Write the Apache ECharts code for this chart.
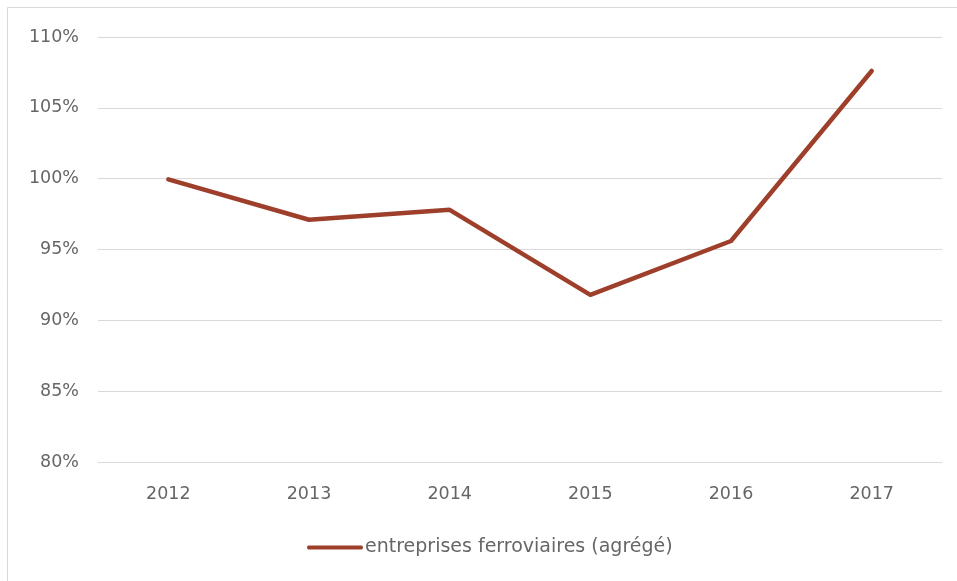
<!DOCTYPE html>
<html>
<head>
<meta charset="utf-8">
<script src="https://cdn.jsdelivr.net/npm/echarts@6/dist/echarts.min.js"></script>
<style>html,body{margin:0;padding:0;background:#fff}#c{width:957px;height:581px}</style>
</head>
<body>
<div id="c"></div>
<script>
const years = ['2012', '2013', '2014', '2015', '2016', '2017'];
const seriesName = 'entreprises ferroviaires (agrégé)';
const values = [99.95, 97.1, 97.8, 91.8, 95.6, 107.6];
const yTicks = [80, 85, 90, 95, 100, 105, 110];

const chart = echarts.init(document.getElementById('c'), null, {renderer: 'canvas'});
const font = '"DejaVu Sans", sans-serif';
chart.setOption({
  animation: false,
  backgroundColor: '#fff',
  graphic: [{
    type: 'rect', z: -1, silent: true,
    shape: {x: 7.5, y: 7.5, width: 1200, height: 1200},
    style: {fill: 'none', stroke: '#d9d9d9', lineWidth: 1}
  }],
  grid: {left: 98, right: 15, top: 37, bottom: 119},
  legend: {
    left: 302, top: 533,
    itemWidth: 56, itemHeight: 14, itemGap: 2,
    data: [{name: seriesName, icon: 'path://M2,5 L54,5 Q56,7 54,9 L2,9 Q0,7 2,5 Z'}],
    textStyle: {color: '#666666', fontSize: 19, fontFamily: font, padding: [0, 0, 0, -3]}
  },
  xAxis: {
    type: 'category', data: years, boundaryGap: true,
    axisLine: {show: false}, axisTick: {show: false},
    axisLabel: {color: '#666666', fontSize: 17.5, fontFamily: font, margin: 23}
  },
  yAxis: {
    type: 'value', min: 80, max: 110, interval: 5,
    axisLine: {show: false}, axisTick: {show: false},
    splitLine: {lineStyle: {color: '#d9d9d9', width: 1}},
    axisLabel: {color: '#666666', fontSize: 17.5, fontFamily: font, margin: 19,
      formatter: v => yTicks.includes(v) ? v + '%' : ''}
  },
  series: [{
    name: seriesName, type: 'line', data: values,
    symbol: 'none',
    lineStyle: {color: '#9E3F2B', width: 4.5, cap: 'round', join: 'round'},
    itemStyle: {color: '#9E3F2B'}
  }]
});
</script>
</body>
</html>
